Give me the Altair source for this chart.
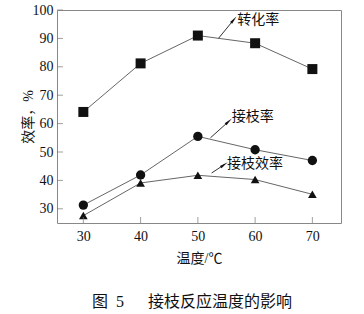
import altair as alt
import pandas as pd

temps = [30, 40, 50, 60, 70]
conv = [64.1, 81.2, 91.0, 88.3, 79.2]
graft = [31.3, 41.9, 55.5, 50.8, 47.0]
geff = [27.6, 39.1, 41.8, 40.3, 35.1]

y_ticks = [30, 40, 50, 60, 70, 80, 90, 100]
x_ticks = [30, 40, 50, 60, 70]

# annotation: label text, arrow start (x,y), arrow end (x,y), label pos, arrow angle
ann_text = ["转化率", "接枝率", "接枝效率"]
ann_x0 = [53.6, 52.2, 52.4]
ann_y0 = [90.0, 55.0, 42.6]
ann_x1 = [56.2, 55.3, 54.5]
ann_y1 = [96.4, 60.6, 45.4]
ann_lx = [56.9, 55.9, 55.1]
ann_ly = [96.6, 62.2, 45.9]
ann_ang = [40, 48, 56]

SERIF = "Times New Roman, Liberation Serif, DejaVu Serif, serif"
CJK = "Liberation Serif, Noto Sans CJK SC"

df = pd.DataFrame({
    "T": temps * 3,
    "v": conv + graft + geff,
    "s": ["转化率"] * 5 + ["接枝率"] * 5 + ["接枝效率"] * 5,
})
ann = pd.DataFrame({"t": ann_text, "x0": ann_x0, "y0": ann_y0, "x1": ann_x1,
                    "y1": ann_y1, "lx": ann_lx, "ly": ann_ly, "a": ann_ang})

xaxis = alt.Axis(values=x_ticks, title="温度/℃", ticks=False, grid=False, labelPadding=6,
                 titlePadding=8, domain=False, labelOverlap=False, labelFlush=False,
                 labelFont=SERIF, labelFontSize=14, labelColor="#111111")
yaxis = alt.Axis(values=y_ticks, title="效率，%", ticks=False, grid=False, labelPadding=4,
                 titlePadding=-3, domain=False, labelOverlap=False, labelFlush=False,
                 labelFont=SERIF, labelFontSize=14, labelColor="#111111")


def X(f):
    return alt.X(f, scale=alt.Scale(domain=[25.4, 75.0], nice=False, zero=False), axis=xaxis)


def Y(f):
    return alt.Y(f, scale=alt.Scale(domain=[25, 100], nice=False, zero=False), axis=yaxis)


base = alt.Chart(df)
lines = base.mark_line(color="#666666", strokeWidth=1).encode(x=X("T:Q"), y=Y("v:Q"), detail="s:N")

shape_scale = alt.Scale(domain=["转化率", "接枝率", "接枝效率"], range=["square", "circle", "triangle-up"])
size_scale = alt.Scale(domain=["转化率", "接枝率", "接枝效率"], range=[100, 75, 45])
pts = base.mark_point(filled=True, color="#111111", opacity=1).encode(
    x=X("T:Q"), y=Y("v:Q"),
    shape=alt.Shape("s:N", scale=shape_scale, legend=None),
    size=alt.Size("s:N", scale=size_scale, legend=None),
)

ytk = alt.Chart(pd.DataFrame({"v": y_ticks})).mark_tick(color="#777777", thickness=1, size=6, orient="horizontal").encode(
    y=Y("v:Q"), x=alt.value(3))
xtk = alt.Chart(pd.DataFrame({"T": x_ticks})).mark_tick(color="#777777", thickness=1, size=6, orient="vertical").encode(
    x=X("T:Q"), y=alt.value(210))

ac = alt.Chart(ann)
arrows = ac.mark_rule(color="#333333", strokeWidth=1).encode(
    x=X("x0:Q"), y=Y("y0:Q"), x2="x1:Q", y2="y1:Q")
heads = ac.mark_point(filled=True, color="#111111", opacity=1, size=50,
                      shape="M0,-1.4L0.38,1L-0.38,1Z").encode(
    x=X("x1:Q"), y=Y("y1:Q"), angle=alt.Angle("a:Q", scale=None))
labels = ac.mark_text(align="left", baseline="middle", font=CJK, fontSize=14, color="#111111").encode(
    x=X("lx:Q"), y=Y("ly:Q"), text="t:N")

chart = alt.layer(lines, pts, ytk, xtk, arrows, heads, labels).properties(
    width=284, height=213,
    autosize=alt.AutoSizeParams(type="none"),
    padding={"left": 57, "top": 10, "right": 23, "bottom": 91},
    title=alt.TitleParams("图\u20025\u3000\u2002接枝反应温度的影响", orient="bottom", anchor="middle",
                          font=CJK, fontSize=16, fontWeight="normal", color="#111111",
                          offset=29, dx=-7),
).configure_view(stroke="#888888", strokeWidth=1).configure_axis(
    titleFont=CJK, titleFontSize=14, titleFontWeight="normal", titleColor="#111111",
)

chart.save("out.html", embed_options={"renderer": "svg", "actions": False})
